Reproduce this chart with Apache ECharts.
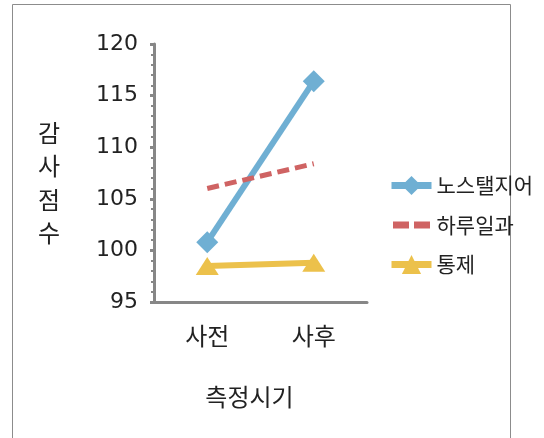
<!DOCTYPE html>
<html>
<head>
<meta charset="utf-8">
<script src="https://cdn.jsdelivr.net/npm/echarts@6/dist/echarts.min.js"></script>
<style>
  html, body { margin: 0; padding: 0; background: #fff; }
  #chart { width: 544px; height: 438px; }
</style>
</head>
<body>
<div id="chart"></div>
<script>
var categories = ['사전', '사후'];
var nostalgia = [100.8, 116.4];
var dailyLife = [106.0, 108.4];
var control = [98.5, 98.8];

var font = '"Noto Sans CJK KR", "Noto Sans", sans-serif';
var numFont = '"DejaVu Sans", "Noto Sans CJK KR", sans-serif';

var chart = echarts.init(document.getElementById('chart'));
var option = {
    animation: false,
    backgroundColor: '#fff',
    textStyle: { fontFamily: font },
    graphic: [
        {
            type: 'rect',
            shape: { x: 12.5, y: 4.5, width: 498, height: 450 },
            style: { fill: 'none', stroke: '#8c8c8c', lineWidth: 1 }
        },
        {
            // y축 제목 (세로 쓰기)
            type: 'text',
            left: 38,
            top: 116,
            style: {
                text: '감\n사\n점\n수',
                font: '24px "Noto Sans CJK KR"',
                lineHeight: 33.5,
                fill: '#222'
            }
        }
    ],
    grid: { left: 154, right: 177, top: 44, bottom: 136 },
    legend: {
        orient: 'vertical',
        left: 388,
        top: 175,
        padding: 0,
        itemWidth: 40,
        itemHeight: 24,
        itemGap: 17,
        lineStyle: { width: 7 },
        textStyle: { fontSize: 21, color: '#222', fontFamily: font },
        data: [
            '노스탤지어',
            { name: '하루일과', icon: 'path://M0,0L0,0ZM0,24L0,24ZM0,8.5h16v7h-16zM21,8.5h16v7h-16z' },
            '통제'
        ]
    },
    xAxis: {
        type: 'category',
        data: categories,
        name: '측정시기',
        nameLocation: 'middle',
        nameGap: 83,
        nameTextStyle: { fontSize: 24, color: '#222', padding: [0, 22, 0, 0] },
        axisLine: { lineStyle: { color: '#878787', width: 3 } },
        axisTick: { show: false },
        axisLabel: { fontSize: 24, color: '#222', margin: 22 }
    },
    yAxis: {
        type: 'value',
        min: 95,
        max: 120,
        interval: 5,
        axisLine: { show: true, lineStyle: { color: '#878787', width: 3 } },
        axisTick: { show: true, length: 4, lineStyle: { color: '#878787', width: 3 } },
        minorTick: { show: true, splitNumber: 5, length: 3, lineStyle: { color: '#878787', width: 2 } },
        splitLine: { show: false },
        axisLabel: { fontSize: 22, color: '#222', margin: 16, fontFamily: numFont }
    },
    series: [
        {
            name: '노스탤지어',
            type: 'line',
            data: nostalgia,
            symbol: 'diamond',
            symbolSize: 22,
            color: '#6fafd3',
            lineStyle: { width: 6 }
        },
        {
            name: '하루일과',
            type: 'line',
            data: dailyLife,
            symbol: 'none',
            color: '#cf6363',
            lineStyle: { width: 5, type: [12, 6] }
        },
        {
            name: '통제',
            type: 'line',
            data: control,
            symbol: 'triangle',
            symbolSize: [23, 18],
            color: '#ecc14b',
            lineStyle: { width: 6 }
        }
    ]
};
chart.setOption(option);
</script>
</body>
</html>
